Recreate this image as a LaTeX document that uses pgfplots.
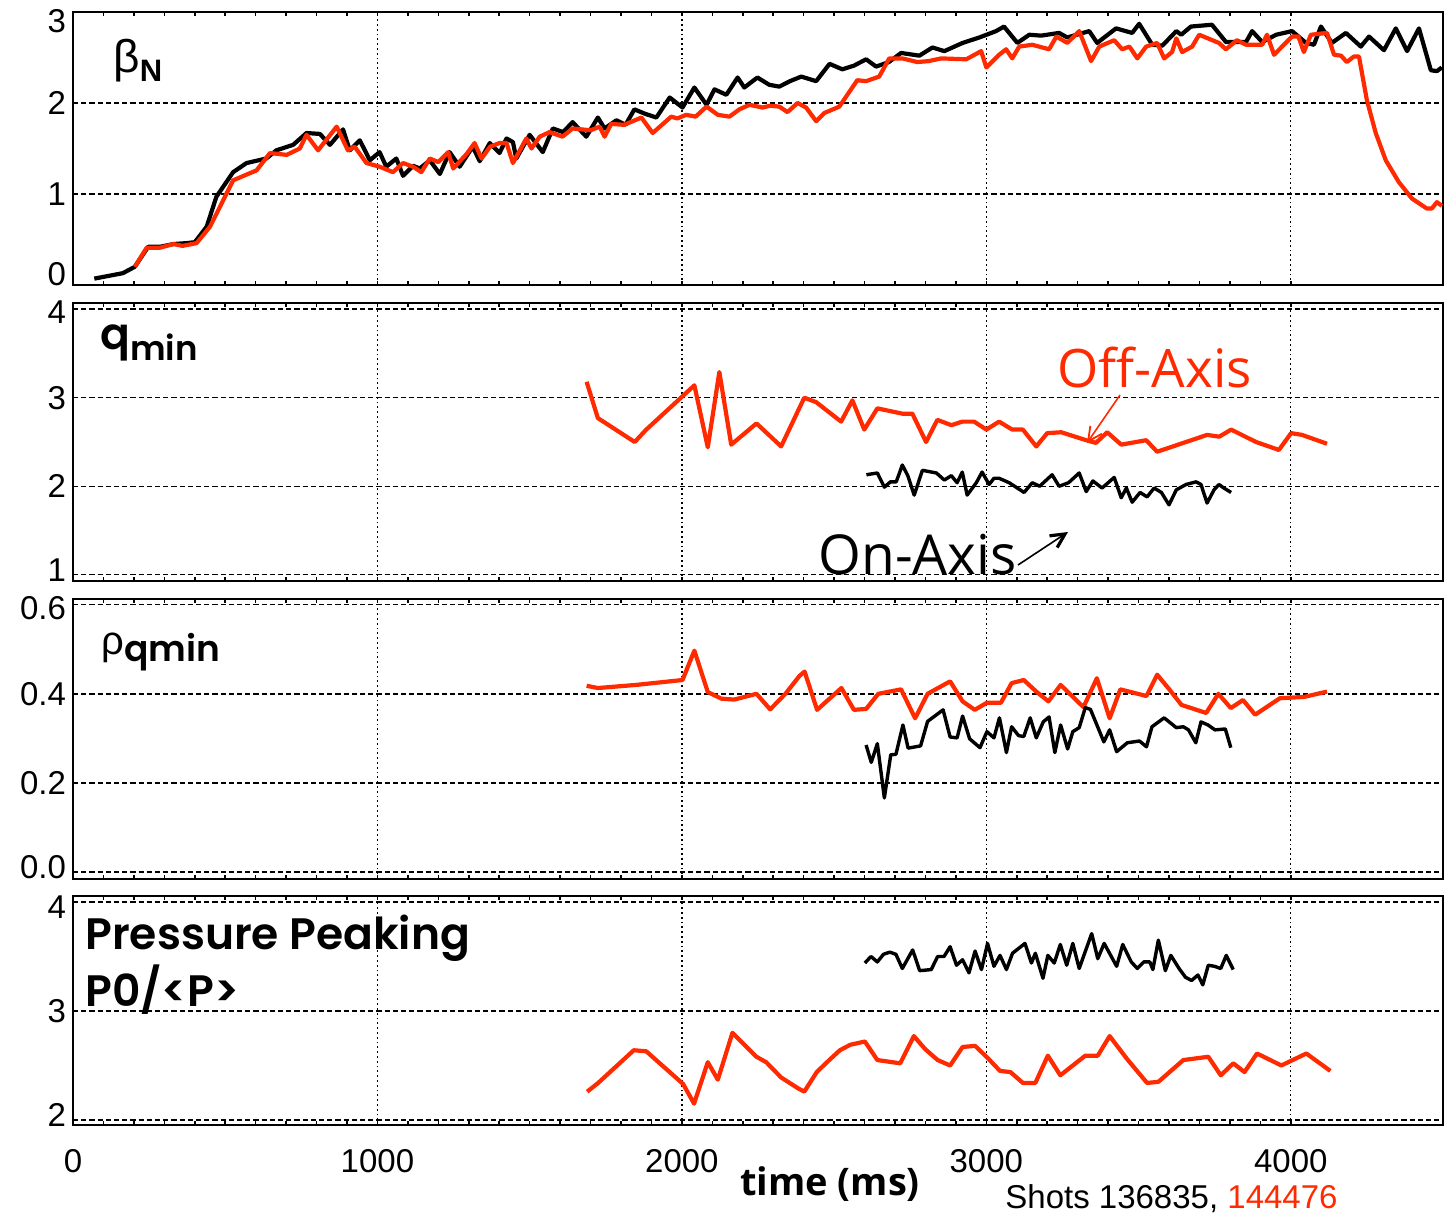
\documentclass[border=0pt]{standalone}
\usepackage{pgfplots}
\pgfplotsset{compat=1.18}
\usepackage{fontspec}
\setmainfont{Liberation Sans}
\newfontfamily\pop{Poppins SemiBold}
\newfontfamily\opens{Open Sans}
\usetikzlibrary{arrows.meta}
\definecolor{myred}{RGB}{255,42,0}

\pgfplotsset{
  panel/.style={
    scale only axis, width=685pt,
    xmin=0, xmax=4500,
    xtick={0,1000,2000,3000,4000},
    minor x tick num=9,
    tick align=inside, xtick pos=both, ytick pos=left,
    ytick style={draw=none},
    major tick length=2.2pt, minor tick length=2.2pt,
    every tick/.style={black, line width=0.8pt},
    grid=major,
    x grid style={black, line width=0.7pt, dash pattern=on 0.9pt off 1.5pt},
    y grid style={black, line width=0.7pt, dash pattern=on 2.6pt off 1.5pt},
    axis line style={line width=0.9pt},
    xticklabels={},
    tick label style={font=\fontsize{16.5}{16.5}\selectfont},
    /pgf/number format/assume math mode=true,
    /pgf/number format/1000 sep={},
    clip=false,
  },
  redl/.style={myred, line width=2.1pt, line join=round, no marks},
  blkl/.style={black, line width=2.1pt, line join=round, no marks},
  blkt/.style={black, line width=1.7pt, line join=round, no marks},
}

\begin{document}
\begin{tikzpicture}
\path[use as bounding box] (0,0) rectangle (724.5pt,607.5pt);

% beta_N
\begin{axis}[panel, at={(36.5pt,465pt)}, anchor=south west, height=136.5pt,
  ymin=0, ymax=3, ytick={0,1,2,3},
  yticklabel style={yshift={(\ticknum==0)*5.5pt-(\ticknum==3)*4.5pt}}]
\addplot[blkl] coordinates {
(70,0.07) (164,0.13) (203,0.20) (247,0.42) (286,0.42) (330,0.45) (373,0.46) (400,0.47)
(439,0.64) (471,0.97) (526,1.24) (570,1.34) (635,1.39) (668,1.48) (723,1.54) (767,1.67)
(811,1.66) (844,1.54) (887,1.71) (909,1.48) (942,1.59) (975,1.37) (1007,1.46) (1029,1.30)
(1062,1.39) (1084,1.20) (1117,1.31) (1139,1.28) (1172,1.37) (1205,1.22) (1237,1.46) (1270,1.30)
(1313,1.52) (1336,1.36) (1369,1.56) (1401,1.45) (1424,1.61) (1445,1.57) (1456,1.39) (1500,1.65)
(1543,1.46) (1576,1.72) (1610,1.68) (1641,1.79) (1686,1.63) (1724,1.84) (1746,1.72) (1785,1.81)
(1815,1.76) (1844,1.93) (1880,1.88) (1916,1.84) (1960,2.06) (2002,1.95) (2041,2.17) (2081,1.98)
(2107,2.15) (2146,2.09) (2183,2.28) (2205,2.17) (2248,2.28) (2287,2.20) (2320,2.18) (2355,2.24)
(2392,2.29) (2441,2.24) (2485,2.43) (2527,2.37) (2565,2.41) (2605,2.48) (2638,2.40) (2680,2.45)
(2720,2.55) (2780,2.52) (2823,2.61) (2862,2.57) (2922,2.66) (2977,2.72) (3032,2.79) (3058,2.84)
(3102,2.66) (3141,2.75) (3180,2.74) (3239,2.77) (3266,2.72) (3338,2.79) (3364,2.66) (3426,2.82)
(3479,2.77) (3502,2.87) (3545,2.64) (3578,2.63) (3624,2.79) (3640,2.75) (3672,2.84) (3741,2.86)
(3787,2.67) (3853,2.67) (3873,2.79) (3906,2.67) (3952,2.75) (4004,2.79) (4050,2.66) (4076,2.64)
(4099,2.84) (4135,2.66) (4181,2.77) (4230,2.62) (4257,2.73) (4306,2.58) (4345,2.82) (4382,2.57)
(4421,2.82) (4460,2.36) (4480,2.35) (4496,2.39)};
\addplot[redl] coordinates {
(203,0.20) (242,0.41) (286,0.41) (330,0.45) (360,0.43) (406,0.46) (450,0.64) (526,1.15)
(603,1.26) (647,1.45) (702,1.43) (745,1.50) (767,1.65) (805,1.48) (866,1.74) (903,1.48)
(925,1.52) (964,1.34) (1007,1.30) (1051,1.24) (1084,1.34) (1117,1.30) (1144,1.24) (1172,1.39)
(1200,1.35) (1232,1.46) (1249,1.28) (1293,1.44) (1319,1.56) (1342,1.39) (1370,1.52) (1401,1.56)
(1424,1.56) (1445,1.34) (1489,1.61) (1506,1.50) (1533,1.63) (1565,1.68) (1608,1.63) (1641,1.72)
(1700,1.70) (1730,1.74) (1746,1.63) (1768,1.77) (1810,1.76) (1867,1.84) (1904,1.67) (1965,1.85)
(1985,1.83) (2014,1.87) (2045,1.85) (2081,1.96) (2118,1.87) (2156,1.85) (2189,1.93) (2222,1.98)
(2265,1.95) (2290,1.97) (2320,1.96) (2347,1.90) (2380,2.00) (2408,1.95) (2441,1.80) (2468,1.89)
(2517,1.96) (2576,2.25) (2605,2.24) (2648,2.29) (2681,2.49) (2724,2.49) (2773,2.45) (2810,2.46)
(2852,2.49) (2934,2.48) (2983,2.57) (3000,2.39) (3042,2.53) (3065,2.59) (3085,2.49) (3108,2.62)
(3151,2.64) (3206,2.59) (3230,2.73) (3266,2.66) (3305,2.79) (3344,2.46) (3371,2.62) (3420,2.69)
(3446,2.59) (3470,2.62) (3496,2.49) (3525,2.62) (3561,2.66) (3584,2.49) (3610,2.56) (3624,2.71)
(3643,2.56) (3676,2.62) (3699,2.75) (3764,2.66) (3787,2.59) (3823,2.69) (3853,2.64) (3906,2.64)
(3922,2.75) (3945,2.53) (4004,2.73) (4025,2.73) (4043,2.56) (4066,2.75) (4119,2.77) (4142,2.53)
(4165,2.52) (4184,2.45) (4207,2.51) (4224,2.51) (4250,2.03) (4279,1.67) (4312,1.37) (4355,1.13)
(4398,0.95) (4447,0.84) (4463,0.84) (4480,0.91) (4496,0.87)};
\end{axis}

% q_min
\begin{axis}[panel, at={(36.5pt,317pt)}, anchor=south west, height=139pt,
  ymin=0.93, ymax=4.07, ytick={1,2,3,4},
  yticklabel style={yshift={(\ticknum==0)*2.5pt-(\ticknum==3)*1.5pt}}]
\addplot[redl] coordinates {
(1687,3.18) (1724,2.77) (1845,2.50) (1883,2.64) (2041,3.14) (2085,2.44) (2123,3.29) (2162,2.47)
(2245,2.71) (2326,2.45) (2402,3.00) (2441,2.95) (2523,2.73) (2560,2.97) (2599,2.64) (2642,2.88)
(2724,2.82) (2757,2.82) (2802,2.50) (2839,2.75) (2885,2.69) (2921,2.73) (2960,2.73) (3000,2.64)
(3042,2.73) (3085,2.64) (3120,2.64) (3164,2.45) (3200,2.60) (3246,2.61) (3328,2.52) (3360,2.49)
(3397,2.61) (3443,2.47) (3525,2.52) (3561,2.39) (3725,2.58) (3765,2.56) (3804,2.64) (3886,2.50)
(3961,2.41) (4001,2.60) (4037,2.58) (4119,2.48)};
\addplot[blkt] coordinates {
(2606,2.13) (2642,2.15) (2665,1.99) (2685,2.05) (2704,2.05) (2724,2.24) (2742,2.12) (2763,1.90)
(2790,2.18) (2836,2.15) (2862,2.07) (2885,2.12) (2904,2.04) (2921,2.16) (2937,1.90) (2967,2.04)
(2986,2.16) (3009,2.02) (3025,2.09) (3042,2.09) (3075,2.04) (3124,1.93) (3151,2.04) (3175,2.00)
(3216,2.13) (3239,2.00) (3270,2.04) (3305,2.15) (3328,1.94) (3350,2.06) (3380,1.98) (3420,2.10)
(3443,1.87) (3460,1.98) (3479,1.82) (3505,1.93) (3528,1.88) (3551,1.98) (3575,1.93) (3600,1.79)
(3624,1.96) (3656,2.02) (3689,2.05) (3705,2.02) (3725,1.81) (3748,1.96) (3764,2.02) (3780,1.98)
(3804,1.93)};
\end{axis}

% rho_qmin
\begin{axis}[panel, at={(36.5pt,168pt)}, anchor=south west, height=140pt,
  ymin=-0.016, ymax=0.613, ytick={0,0.2,0.4,0.6},
  yticklabel style={/pgf/number format/fixed, /pgf/number format/fixed zerofill,
    /pgf/number format/precision=1,
    yshift={(\ticknum==0)*2.5pt-(\ticknum==3)*1.5pt}}]
\addplot[redl] coordinates {
(1687,0.418) (1724,0.413) (1850,0.420) (2002,0.431) (2041,0.497) (2085,0.404) (2130,0.389)
(2172,0.387) (2245,0.400) (2290,0.365) (2340,0.400) (2386,0.440) (2403,0.450) (2444,0.364)
(2524,0.413) (2565,0.364) (2605,0.366) (2645,0.400) (2720,0.410) (2766,0.345) (2807,0.400)
(2881,0.428) (2922,0.383) (2962,0.364) (3002,0.380) (3048,0.380) (3083,0.424) (3123,0.431)
(3164,0.405) (3204,0.383) (3244,0.420) (3319,0.370) (3363,0.435) (3405,0.345) (3440,0.410)
(3526,0.395) (3561,0.443) (3601,0.410) (3641,0.375) (3722,0.357) (3762,0.400) (3803,0.368)
(3843,0.386) (3883,0.353) (3964,0.390) (4044,0.393) (4119,0.405)};
\addplot[blkt] coordinates {
(2605,0.285) (2622,0.246) (2642,0.288) (2665,0.166) (2686,0.263) (2703,0.264) (2726,0.330)
(2743,0.278) (2784,0.283) (2807,0.338) (2858,0.364) (2881,0.303) (2904,0.301) (2922,0.350)
(2945,0.299) (2979,0.279) (3002,0.315) (3025,0.301) (3043,0.346) (3066,0.268) (3083,0.326)
(3106,0.306) (3123,0.304) (3144,0.346) (3164,0.301) (3187,0.337) (3206,0.348) (3225,0.268)
(3244,0.330) (3267,0.276) (3284,0.315) (3305,0.324) (3325,0.369) (3342,0.365) (3386,0.292)
(3405,0.319) (3428,0.270) (3463,0.290) (3503,0.294) (3526,0.281) (3544,0.326) (3584,0.346)
(3624,0.324) (3647,0.326) (3664,0.319) (3688,0.290) (3705,0.337) (3728,0.330) (3751,0.319)
(3785,0.321) (3803,0.279)};
\end{axis}

% pressure peaking
\begin{axis}[panel, at={(36.5pt,45pt)}, anchor=south west, height=114.5pt,
  ymin=1.954, ymax=4.055, ytick={2,3,4},
  xticklabels={0,1000,2000,3000,4000},
  xticklabel style={anchor=base, yshift=-23.5pt},
  yticklabel style={yshift={(\ticknum==0)*2.5pt-(\ticknum==2)*2.5pt}}]
\addplot[redl] coordinates {
(1689,2.26) (1725,2.34) (1842,2.64) (1883,2.63) (2004,2.33) (2040,2.15) (2085,2.53) (2118,2.37)
(2166,2.80) (2245,2.58) (2277,2.53) (2326,2.39) (2382,2.29) (2402,2.26) (2443,2.44) (2484,2.55)
(2519,2.64) (2553,2.69) (2601,2.72) (2642,2.55) (2717,2.52) (2762,2.77) (2799,2.65) (2840,2.55)
(2881,2.50) (2922,2.67) (2963,2.68) (3004,2.57) (3045,2.45) (3079,2.44) (3120,2.34) (3161,2.34)
(3202,2.59) (3243,2.41) (3284,2.50) (3325,2.59) (3366,2.59) (3405,2.77) (3462,2.56) (3528,2.34)
(3565,2.35) (3647,2.55) (3729,2.58) (3770,2.41) (3811,2.52) (3848,2.44) (3889,2.61) (3969,2.50)
(4051,2.61) (4130,2.45)};
\addplot[blkt] coordinates {
(2601,3.44) (2621,3.50) (2642,3.45) (2662,3.52) (2683,3.54) (2703,3.52) (2724,3.39) (2758,3.56)
(2781,3.37) (2819,3.38) (2840,3.50) (2861,3.50) (2881,3.59) (2902,3.42) (2922,3.47) (2943,3.35)
(2963,3.55) (2984,3.38) (3004,3.62) (3025,3.41) (3045,3.51) (3066,3.38) (3086,3.53) (3127,3.62)
(3148,3.44) (3161,3.53) (3186,3.30) (3202,3.51) (3223,3.44) (3243,3.61) (3264,3.42) (3284,3.62)
(3305,3.39) (3346,3.71) (3366,3.48) (3387,3.62) (3428,3.41) (3448,3.61) (3476,3.45) (3496,3.39)
(3517,3.45) (3537,3.45) (3547,3.38) (3565,3.65) (3588,3.37) (3606,3.51) (3633,3.39) (3654,3.31)
(3674,3.28) (3695,3.33) (3711,3.24) (3729,3.42) (3749,3.41) (3770,3.39) (3788,3.51) (3811,3.38)};
\end{axis}

% panel labels and notes
\node[anchor=base west, inner sep=0pt] at (56.5pt,571pt)
  {{\fontsize{23}{23}\selectfont β}\raisebox{-4.5pt}{\fontsize{15.5}{15.5}\selectfont\bfseries N}};
\node[anchor=base west, inner sep=0pt] at (50pt,432.5pt)
  {\pop\fontsize{22}{22}\selectfont q\raisebox{-5.5pt}{\fontsize{17}{17}\selectfont min}};
\node[anchor=base west, inner sep=0pt] at (50.5pt,280pt)
  {{\fontsize{20}{20}\selectfont ρ}\raisebox{-3.5pt}{\pop\fontsize{18}{18}\selectfont qmin}};
\node[anchor=base west, inner sep=0pt] at (42.5pt,132.5pt)
  {\pop\fontsize{22}{22}\selectfont Pressure Peaking};
\node[anchor=base west, inner sep=0pt] at (42.5pt,104.5pt)
  {\pop\fontsize{22}{22}\selectfont P0/<P>};

\node[anchor=base west, inner sep=0pt, text=myred] at (528.5pt,413.5pt)
  {\opens\fontsize{26.5}{26.5}\selectfont Off-Axis};
\draw[myred, line width=0.8pt, -{Straight Barb[length=7pt,width=7pt,line width=0.9pt]}]
  (560pt,410pt) -- (543.5pt,386pt);
\node[anchor=base west, inner sep=0pt] at (409pt,320pt)
  {\opens\fontsize{27.5}{27.5}\selectfont On-Axis};
\draw[black, line width=0.8pt, -{Straight Barb[length=7pt,width=7pt,line width=1.6pt]}]
  (509pt,325pt) -- (534pt,341.5pt);

\node[anchor=base, inner sep=0pt] at (415pt,10pt)
  {\opens\bfseries\fontsize{19}{19}\selectfont time (ms)};
\node[anchor=base west, inner sep=0pt] at (502.5pt,3.5pt)
  {\fontsize{16.5}{16.5}\selectfont Shots 136835, \textcolor{myred}{144476}};
\end{tikzpicture}
\end{document}
